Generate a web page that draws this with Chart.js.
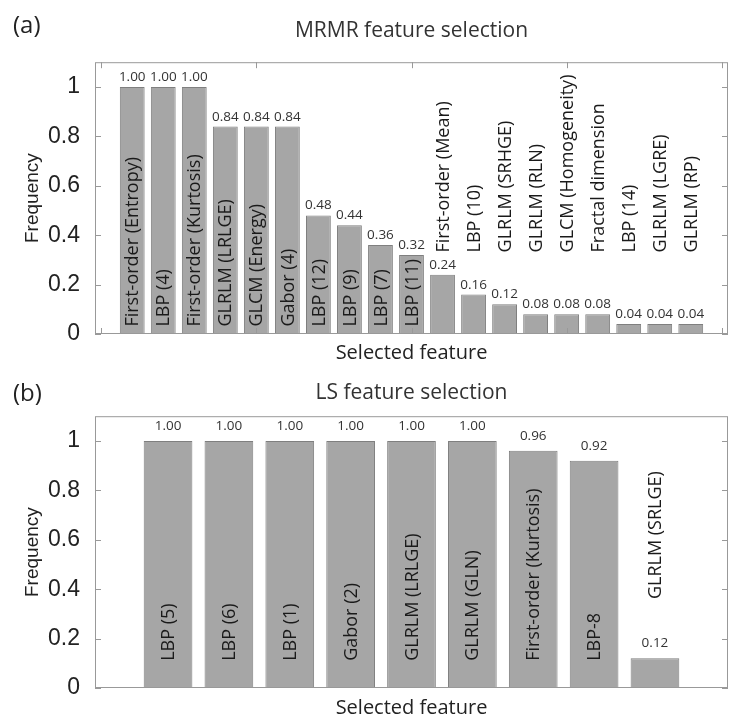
<!DOCTYPE html>
<html>
<head>
<meta charset="utf-8">
<script src="https://cdn.jsdelivr.net/npm/chart.js@4.4.0/dist/chart.umd.min.js"></script>
<style>
  html, body { margin: 0; padding: 0; background: #fff; }
  .panel { position: absolute; left: 0; width: 732px; }
  .tag { position: absolute; left: 13px; font: 24px "Open Sans", sans-serif; color: #222; }
</style>
</head>
<body>
<div class="panel" style="top:0;height:365px"><canvas id="chartA" width="732" height="365"></canvas></div>
<div class="panel" style="top:365px;height:363px"><canvas id="chartB" width="732" height="363"></canvas></div>
<div class="tag" style="top:7px">(a)</div>
<div class="tag" style="top:375px">(b)</div>
<script>
// ---- data ----
const mrmrFeatures = [
  'First-order (Entropy)', 'LBP (4)', 'First-order (Kurtosis)', 'GLRLM (LRLGE)',
  'GLCM (Energy)', 'Gabor (4)', 'LBP (12)', 'LBP (9)', 'LBP (7)', 'LBP (11)',
  'First-order (Mean)', 'LBP (10)', 'GLRLM (SRHGE)', 'GLRLM (RLN)',
  'GLCM (Homogeneity)', 'Fractal dimension', 'LBP (14)', 'GLRLM (LGRE)', 'GLRLM (RP)'
];
const mrmrFreq = [1.00, 1.00, 1.00, 0.84, 0.84, 0.84, 0.48, 0.44, 0.36, 0.32,
                  0.24, 0.16, 0.12, 0.08, 0.08, 0.08, 0.04, 0.04, 0.04];

const lsFeatures = [
  'LBP (5)', 'LBP (6)', 'LBP (1)', 'Gabor (2)', 'GLRLM (LRLGE)',
  'GLRLM (GLN)', 'First-order (Kurtosis)', 'LBP-8', 'GLRLM (SRLGE)'
];
const lsFreq = [1.00, 1.00, 1.00, 1.00, 1.00, 1.00, 0.96, 0.92, 0.12];

const yTicks = [0, 0.2, 0.4, 0.6, 0.8, 1];
const mrmrXTicks = [0, 5, 10, 15, 20];
const lsXTicks = [];

// draws the box, inward ticks, value labels and feature names
const decorPlugin = {
  id: 'decor',
  afterDatasetsDraw(chart, args, opts) {
    const { ctx, chartArea: a } = chart;
    const x = chart.scales.x, y = chart.scales.y;
    ctx.save();
    ctx.strokeStyle = '#999';
    ctx.lineWidth = 1;
    ctx.strokeRect(a.left + 0.5, a.top + 0.5, a.right - a.left - 1, a.bottom - a.top - 1);

    ctx.beginPath();
    yTicks.forEach(v => {
      const py = Math.round(y.getPixelForValue(v)) + 0.5;
      ctx.moveTo(a.left, py); ctx.lineTo(a.left + 6, py);
      ctx.moveTo(a.right, py); ctx.lineTo(a.right - 6, py);
    });
    opts.xTicks.forEach(v => {
      const px = Math.round(x.getPixelForValue(v)) + 0.5;
      ctx.moveTo(px, a.bottom); ctx.lineTo(px, a.bottom - 6);
      ctx.moveTo(px, a.top); ctx.lineTo(px, a.top + 6);
    });
    ctx.stroke();

    const meta = chart.getDatasetMeta(0);
    meta.data.forEach((bar, i) => {
      const v = opts.values[i];
      ctx.fillStyle = '#333';
      ctx.font = '13.5px "Open Sans"';
      ctx.textAlign = 'center';
      ctx.textBaseline = 'bottom';
      ctx.fillText(v.toFixed(2), bar.x, bar.y - opts.valueGap);

      const name = opts.names[i];
      ctx.font = '18px "Open Sans"';
      const w = ctx.measureText(name).width;
      const inY = y.getPixelForValue(opts.inBase);
      const baseY = (inY - w > bar.y + 3) ? inY : y.getPixelForValue(opts.outBase);
      ctx.save();
      ctx.translate(bar.x, baseY);
      ctx.rotate(-Math.PI / 2);
      ctx.textAlign = 'left';
      ctx.textBaseline = 'middle';
      ctx.fillStyle = '#1a1a1a';
      ctx.fillText(name, 0, 1);
      ctx.restore();
    });
    ctx.restore();
  }
};

function makeChart(id, title, names, values, xMax, xTicks, inBase, outBase, valueGap, titlePad, xHeight, xTitlePad) {
  return new Chart(document.getElementById(id), {
    type: 'bar',
    data: {
      datasets: [{
        data: values.map((v, i) => ({ x: i + 1, y: v })),
        backgroundColor: '#a6a6a6',
        borderColor: '#7f7f7f',
        borderWidth: 1,
        barPercentage: 0.8,
        categoryPercentage: 1
      }]
    },
    options: {
      responsive: false,
      animation: false,
      layout: { padding: { left: 0, right: 4, top: 0, bottom: 0 } },
      plugins: {
        legend: { display: false },
        tooltip: { enabled: false },
        title: {
          display: true,
          text: title,
          fullSize: false,
          color: '#333',
          font: { family: 'Open Sans', size: 21, weight: 'normal' },
          padding: titlePad
        },
        decor: { names, values, xTicks, inBase, outBase, valueGap }
      },
      scales: {
        x: {
          type: 'linear',
          offset: false,
          min: -0.2,
          max: xMax,
          ticks: { display: false },
          grid: { display: false, offset: false },
          border: { display: false },
          title: {
            display: true,
            text: 'Selected feature',
            color: '#222',
            font: { family: 'Open Sans', size: 20 },
            padding: { top: 0, bottom: xTitlePad }
          },
          afterFit: s => { s.height = xHeight; }
        },
        y: {
          min: 0,
          max: 1.1,
          afterBuildTicks: s => { s.ticks = yTicks.map(v => ({ value: v })); },
          ticks: {
            color: '#222',
            padding: 7,
            font: { family: 'Liberation Sans', size: 23 },
            callback: v => String(v)
          },
          grid: { display: false },
          border: { display: false },
          title: {
            display: true,
            text: 'Frequency',
            color: '#222',
            font: { family: 'Liberation Sans', size: 19 },
            padding: { top: 21, bottom: 0 }
          },
          afterFit: s => { s.width = 95; }
        }
      }
    },
    plugins: [decorPlugin]
  });
}

makeChart('chartA', 'MRMR feature selection', mrmrFeatures, mrmrFreq, 20.2, mrmrXTicks,
          0.03, 0.33, 3, { top: 18, bottom: 19 }, 31, 0);
makeChart('chartB', 'LS feature selection', lsFeatures, lsFreq, 10.2, lsXTicks,
          0.11, 0.36, 8, { top: 15, bottom: 11 }, 40, 8);
</script>
</body>
</html>
